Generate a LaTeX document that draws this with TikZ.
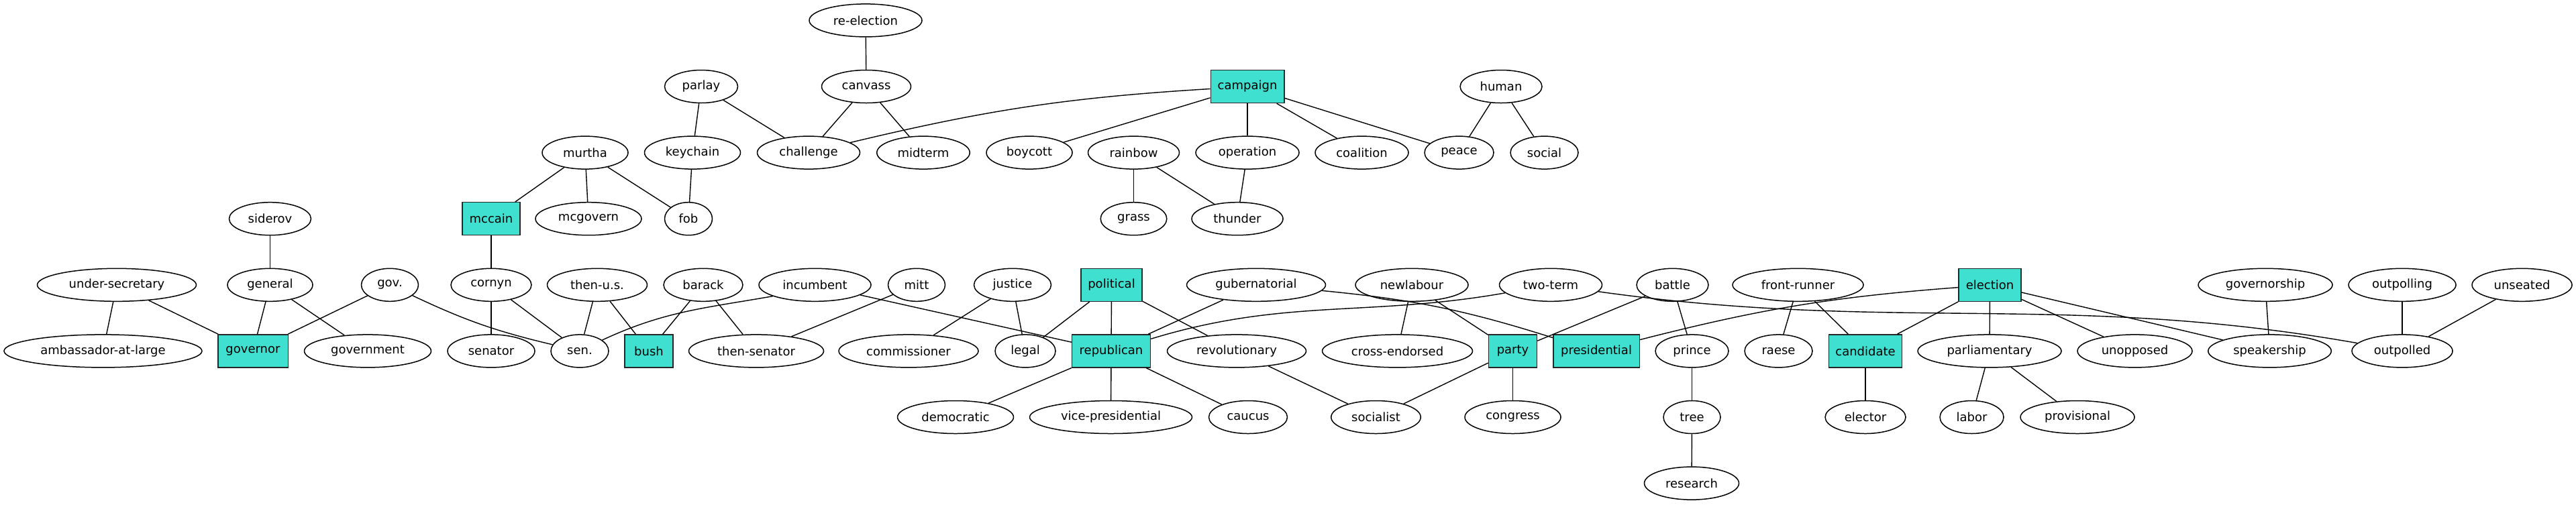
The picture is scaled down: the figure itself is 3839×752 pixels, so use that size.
\documentclass[tikz,border=0pt]{standalone}
\usepackage{fontspec}
\setmainfont{DejaVu Sans}
\usetikzlibrary{shapes.geometric}
\definecolor{turq}{RGB}{64,224,208}
\tikzset{
  el/.style={ellipse,draw=black,line width=0.375pt,minimum height=12.25pt,inner sep=0pt,font=\fontsize{4.5}{5}\selectfont},
  bx/.style={rectangle,draw=black!85,fill=turq,line width=0.375pt,minimum height=12.25pt,inner sep=0pt,font=\fontsize{4.5}{5}\selectfont},
  ed/.style={line width=0.35pt,draw=black}
}
\newcommand{\EL}[5]{\node[el,minimum width=#4*0.25pt] (#1) at (#2,#3) {#5};}
\newcommand{\BX}[5]{\node[bx,minimum width=#4*0.25pt] (#1) at (#2,#3) {#5};}
\begin{document}
\begin{tikzpicture}[x=0.25pt,y=-0.25pt]
\useasboundingbox (0,0) rectangle (3839,752);
% row 0
\EL{reelection}{1290}{30.4}{168}{re-election}
% row 1
\EL{parlay}{1045}{129}{109}{parlay}
\EL{canvass}{1291}{129}{133}{canvass}
\BX{campaign}{1859}{129}{109.5}{campaign}
\EL{human}{2237}{129}{122}{human}
% row 2
\EL{murtha}{872}{227.6}{128}{murtha}
\EL{keychain}{1032}{227.6}{143}{keychain}
\EL{challenge}{1205}{227.6}{153}{challenge}
\EL{midterm}{1376}{227.6}{138.5}{midterm}
\EL{boycott}{1534}{227.6}{128}{boycott}
\EL{rainbow}{1689.5}{227.6}{136}{rainbow}
\EL{operation}{1859}{227.6}{154}{operation}
\EL{coalition}{2029.5}{227.6}{139}{coalition}
\EL{peace}{2174.5}{227.6}{103}{peace}
\EL{social}{2301.5}{227.6}{101}{social}
% row 3
\EL{siderov}{402.5}{326.2}{122}{siderov}
\BX{mccain}{732}{326.2}{86}{mccain}
\EL{mcgovern}{877}{326.2}{158}{mcgovern}
\EL{fob}{1026}{326.2}{71}{fob}
\EL{grass}{1689.5}{326.2}{98.6}{grass}
\EL{thunder}{1844}{326.2}{136}{thunder}
% row 4
\EL{undersec}{174}{424.8}{237}{under-secretary}
\EL{general}{402.5}{424.8}{127}{general}
\EL{gov}{581}{424.8}{85}{gov.}
\EL{cornyn}{732}{424.8}{120}{cornyn}
\EL{thenus}{890}{424.8}{149}{then-u.s.}
\EL{barack}{1048}{424.8}{118}{barack}
\EL{incumbent}{1214.5}{424.8}{167}{incumbent}
\EL{mitt}{1366}{424.8}{85}{mitt}
\EL{justice}{1509}{424.8}{115}{justice}
\BX{political}{1656.5}{424.8}{91}{political}
\EL{gubernatorial}{1872}{424.8}{207}{gubernatorial}
\EL{newlabour}{2104}{424.8}{168}{newlabour}
\EL{twoterm}{2311}{424.8}{153}{two-term}
\EL{battle}{2492.5}{424.8}{107}{battle}
\EL{frontrunner}{2679.5}{424.8}{195}{front-runner}
\BX{election}{2965.5}{424.8}{93}{election}
\EL{governorship}{3376}{424.8}{200}{governorship}
\EL{outpolling}{3580}{424.8}{160}{outpolling}
\EL{unseated}{3758.5}{424.8}{149}{unseated}
% row 5
\EL{ambassador}{153.5}{523.4}{295}{ambassador-at-large}
\BX{governor}{377}{523.4}{104.5}{governor}
\EL{government}{548}{523.4}{189}{government}
\EL{senator}{732}{523.4}{130}{senator}
\EL{sen}{864}{523.4}{86}{sen.}
\BX{bush}{967}{523.4}{72}{bush}
\EL{thensenator}{1127}{523.4}{201}{then-senator}
\EL{commissioner}{1354}{523.4}{208}{commissioner}
\EL{legal}{1528}{523.4}{90}{legal}
\BX{republican}{1656}{523.4}{117}{republican}
\EL{revolutionary}{1843}{523.4}{207}{revolutionary}
\EL{crossendorsed}{2082.5}{523.4}{224}{cross-endorsed}
\BX{party}{2254.5}{523.4}{72}{party}
\BX{presidential}{2379}{523.4}{128.5}{presidential}
\EL{prince}{2521.5}{523.4}{109}{prince}
\EL{raese}{2650.5}{523.4}{101}{raese}
\BX{candidate}{2780}{523.4}{109}{candidate}
\EL{parliamentary}{2965}{523.4}{214}{parliamentary}
\EL{unopposed}{3181.5}{523.4}{171}{unopposed}
\EL{speakership}{3382.5}{523.4}{183.5}{speakership}
\EL{outpolled}{3580}{523.4}{150}{outpolled}
% row 6
\EL{democratic}{1424}{622}{173}{democratic}
\EL{vicepres}{1655.5}{622}{242}{vice-presidential}
\EL{caucus}{1860}{622}{117}{caucus}
\EL{socialist}{2050.5}{622}{133.5}{socialist}
\EL{congress}{2254.5}{622}{143}{congress}
\EL{tree}{2521.5}{622}{85}{tree}
\EL{elector}{2780}{622}{120}{elector}
\EL{labor}{2938.5}{622}{95}{labor}
\EL{provisional}{3096}{622}{170}{provisional}
% row 7
\EL{research}{2521}{720.6}{141}{research}
% edges
\begin{scope}[ed]
\draw (reelection) -- (canvass);
\draw (parlay) -- (keychain);
\draw (parlay) -- (challenge);
\draw (canvass) -- (challenge);
\draw (canvass) -- (midterm);
\draw (campaign) to[bend right=5] (challenge);
\draw (campaign) -- (boycott);
\draw (campaign) -- (operation);
\draw (campaign) -- (coalition);
\draw (campaign) -- (peace);
\draw (human) -- (peace);
\draw (human) -- (social);
\draw (murtha) -- (mccain);
\draw (murtha) -- (mcgovern);
\draw (murtha) -- (fob);
\draw (keychain) -- (fob);
\draw (rainbow) -- (grass);
\draw (rainbow) -- (thunder);
\draw (operation) -- (thunder);
\draw (siderov) -- (general);
\draw (mccain) -- (cornyn);
\draw (undersec) -- (ambassador);
\draw (undersec) -- (governor);
\draw (general) -- (governor);
\draw (general) -- (government);
\draw (gov) -- (governor);
\draw (gov) to[bend right=6] (sen);
\draw (cornyn) -- (senator);
\draw (cornyn) -- (sen);
\draw (thenus) -- (sen);
\draw (thenus) -- (bush);
\draw (barack) -- (bush);
\draw (barack) -- (thensenator);
\draw (incumbent.195) to[out=190,in=25] (sen.26);
\draw (incumbent) -- (republican);
\draw (mitt) -- (thensenator);
\draw (justice) -- (commissioner);
\draw (justice) -- (legal);
\draw (political) -- (legal);
\draw (political) -- (republican);
\draw (political) -- (revolutionary);
\draw (gubernatorial) -- (republican);
\draw (gubernatorial) to[bend left=6] (presidential);
\draw (twoterm) to[out=190,in=17] (republican);
\draw (twoterm) to[out=-8,in=170] (outpolled);
\draw (newlabour) -- (crossendorsed);
\draw (newlabour) -- (party);
\draw (battle) -- (party);
\draw (battle) -- (prince);
\draw (election) to[bend right=5] (presidential);
\draw (republican) -- (democratic);
\draw (republican) -- (vicepres);
\draw (republican) -- (caucus);
\draw (revolutionary) -- (socialist);
\draw (party) -- (socialist);
\draw (party) -- (congress);
\draw (prince) -- (tree);
\draw (tree) -- (research);
\draw (frontrunner) -- (raese);
\draw (frontrunner) -- (candidate);
\draw (election) -- (candidate);
\draw (election) -- (parliamentary);
\draw (election) -- (unopposed);
\draw (election) -- (speakership);
\draw (governorship) -- (speakership);
\draw (outpolling) -- (outpolled);
\draw (unseated) -- (outpolled);
\draw (candidate) -- (elector);
\draw (parliamentary) -- (labor);
\draw (parliamentary) -- (provisional);
\end{scope}
\end{tikzpicture}
\end{document}
